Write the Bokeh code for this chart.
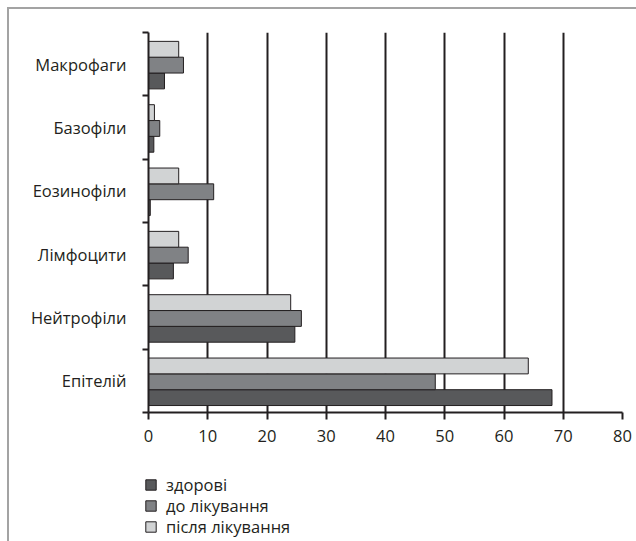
from bokeh.plotting import figure
from bokeh.layouts import column, row
from bokeh.models import ColumnDataSource, FixedTicker, Legend, LegendItem, Range1d, Div
from bokeh.transform import dodge
from bokeh.embed import file_html
from bokeh.resources import INLINE

# ---- data (bottom to top) ----
categories = ["Епітелій", "Нейтрофіли", "Лімфоцити", "Еозинофіли", "Базофіли", "Макрофаги"]
healthy = [68.1, 24.7, 4.2, 0.3, 0.9, 2.7]       # здорові
before = [48.4, 25.8, 6.7, 11.0, 1.9, 5.9]       # до лікування
after = [64.1, 24.0, 5.1, 5.1, 1.0, 5.1]         # після лікування
series_names = ["здорові", "до лікування", "після лікування"]
x_ticks = [0, 10, 20, 30, 40, 50, 60, 70, 80]

# ---- styles ----
INK = "#231f20"
FRAME = "#a3a3a3"
colors = ["#58595b", "#808285", "#d1d3d4"]
FONT = "Open Sans"
FS = "16.5px"
W = 627
H1 = 455
H2 = 532 - H1

centers = [i + 0.5 for i in range(len(categories))]
bounds = [float(i) for i in range(len(categories) + 1)]
src = ColumnDataSource(dict(y=centers, healthy=healthy, before=before, after=after))

p = figure(width=W, height=H1, output_backend="svg", toolbar_location=None,
           x_range=Range1d(0, 80), y_range=Range1d(0, len(categories)),
           min_border_left=139, min_border_right=14, min_border_top=23, min_border_bottom=52,
           outline_line_color=None, background_fill_color="white", border_fill_color="white")

offsets = [-0.25, 0.0, 0.25]
fields = ["healthy", "before", "after"]
for f, off, c in zip(fields, offsets, colors):
    p.hbar(y=dodge("y", off - 0.015), right=f, left=0, height=0.25, source=src,
           fill_color=c, line_color=INK, line_width=1)

# x axis
p.xaxis.ticker = FixedTicker(ticks=x_ticks, minor_ticks=[])
p.xaxis.axis_line_color = INK
p.xaxis.axis_line_width = 2
p.xaxis.major_tick_line_color = INK
p.xaxis.major_tick_line_width = 2
p.xaxis.major_tick_out = 7
p.xaxis.major_tick_in = 0
p.xaxis.major_label_standoff = 10
p.xaxis.major_label_text_font = FONT
p.xaxis.major_label_text_font_size = FS
p.xaxis.major_label_text_color = INK

# y axis
p.yaxis.ticker = FixedTicker(ticks=centers, minor_ticks=bounds)
p.yaxis.major_label_overrides = {c: n for c, n in zip(centers, categories)}
p.yaxis.axis_line_color = INK
p.yaxis.axis_line_width = 2
p.yaxis.major_tick_line_color = None
p.yaxis.major_tick_out = 0
p.yaxis.major_tick_in = 0
p.yaxis.minor_tick_line_color = INK
p.yaxis.minor_tick_line_width = 2
p.yaxis.minor_tick_out = 6
p.yaxis.minor_tick_in = 0
p.yaxis.major_label_standoff = 16
p.yaxis.major_label_text_font = FONT
p.yaxis.major_label_text_font_size = FS
p.yaxis.major_label_text_color = INK

# grid
p.xgrid.ticker = FixedTicker(ticks=x_ticks)
p.xgrid.grid_line_color = INK
p.xgrid.grid_line_width = 2
p.ygrid.visible = False

# ---- legend panel below (its bars fall outside its view; only the legend shows) ----
p2 = figure(width=W, height=H2, output_backend="svg", toolbar_location=None,
            x_axis_type=None, y_axis_type=None,
            x_range=Range1d(-2, -1), y_range=Range1d(-2, -1),
            min_border_left=0, min_border_right=0, min_border_top=0, min_border_bottom=0,
            outline_line_color=None, background_fill_color="white", border_fill_color="white")
p2.frame_align = False
p2.grid.visible = False
row_bottoms = [44.75, 23.75, 2.75]
for f, c, n, yb in zip(fields, colors, series_names, row_bottoms):
    r = p2.hbar(y="y", right=f, left=0, height=0.25, source=src,
                fill_color=c, line_color=INK, line_width=1)
    lg = Legend(items=[LegendItem(label=n, renderers=[r])],
                location=(135, yb), orientation="vertical",
                border_line_color=None, background_fill_alpha=0,
                padding=0, margin=0, spacing=0,
                glyph_width=13, glyph_height=13, label_standoff=9,
                label_text_font=FONT, label_text_font_size=FS, label_text_color=INK)
    p2.add_layout(lg)

top_line = Div(width=W + 2, height=2, margin=0, styles={"background-color": FRAME})
left_line = Div(width=2, height=H1 + H2, margin=0, styles={"background-color": FRAME})
layout = column(top_line, row(left_line, column(p, p2, spacing=0), spacing=0), spacing=0,
                styles={"margin-left": "7px", "margin-top": "7px"})

open("out.html", "w").write(file_html(layout, INLINE))
